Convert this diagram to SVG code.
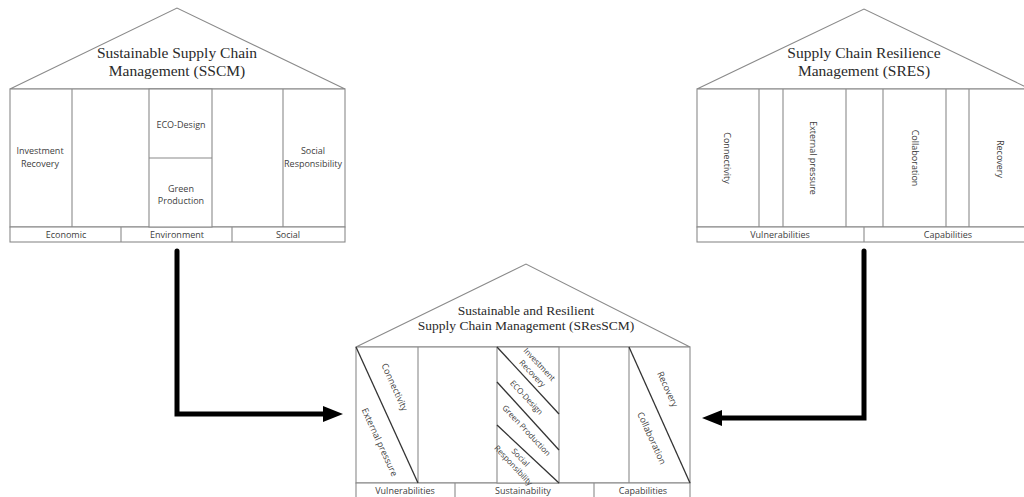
<svg xmlns="http://www.w3.org/2000/svg" width="1024" height="497" viewBox="0 0 1024 497">
  <style>
    .frame { fill: #fff; stroke: #8a8a8a; stroke-width: 1.1; }
    .line { fill: none; stroke: #8a8a8a; stroke-width: 1.1; }
    .diag { fill: none; stroke: #333; stroke-width: 1.3; }
    .title { font-family: "Liberation Serif", "Times New Roman", serif; fill: #2a2a2a; text-anchor: middle; }
    .lbl { font-family: "Open Sans", "Liberation Sans", sans-serif; font-size: 9px; fill: #404040; text-anchor: middle; }
    .sm { font-size: 8px; }
    .rot { dominant-baseline: central; }
    .flow { fill: none; stroke: #000; stroke-width: 5; stroke-linecap: round; stroke-linejoin: miter; }
  </style>
  <defs>
    <marker id="head" markerUnits="userSpaceOnUse" viewBox="0 0 20 16" markerWidth="20" markerHeight="16" refX="1" refY="8" orient="auto">
      <path d="M0,0 L20,8 L0,16 z" fill="#000"/>
    </marker>
  </defs>
  <rect width="1024" height="497" fill="#fff"/>

  <!-- Sustainable Supply Chain Management house -->
  <g id="sscm">
    <polygon class="frame" points="10,89 177,8 345,89"/>
    <rect class="frame" x="10" y="89" width="335" height="138"/>
    <rect class="frame" x="10" y="227" width="335" height="15"/>
    <line class="line" x1="72" y1="89" x2="72" y2="227"/>
    <rect class="frame" x="149" y="89" width="63" height="138"/>
    <line class="line" x1="149" y1="158" x2="212" y2="158"/>
    <line class="line" x1="283" y1="89" x2="283" y2="227"/>
    <line class="line" x1="121" y1="227" x2="121" y2="242"/>
    <line class="line" x1="232" y1="227" x2="232" y2="242"/>
    <text class="title" font-size="15.5" x="177" y="58">Sustainable Supply Chain</text>
    <text class="title" font-size="15.5" x="177" y="76">Management (SSCM)</text>
    <text class="lbl" x="40" y="154">Investment</text>
    <text class="lbl" x="40" y="167">Recovery</text>
    <text class="lbl" x="181" y="128">ECO-Design</text>
    <text class="lbl" x="181" y="192">Green</text>
    <text class="lbl" x="181" y="204">Production</text>
    <text class="lbl" x="313" y="154">Social</text>
    <text class="lbl" x="313" y="167">Responsibility</text>
    <text class="lbl" x="66" y="238">Economic</text>
    <text class="lbl" x="177" y="238">Environment</text>
    <text class="lbl" x="288" y="238">Social</text>
  </g>

  <!-- Supply Chain Resilience Management house -->
  <g id="sres">
    <polygon class="frame" points="697,89 864,9 1030,89"/>
    <rect class="frame" x="697" y="89" width="340" height="138"/>
    <rect class="frame" x="697" y="227" width="340" height="15"/>
    <line class="line" x1="759" y1="89" x2="759" y2="227"/>
    <line class="line" x1="783" y1="89" x2="783" y2="227"/>
    <line class="line" x1="846" y1="89" x2="846" y2="227"/>
    <line class="line" x1="883" y1="89" x2="883" y2="227"/>
    <line class="line" x1="946" y1="89" x2="946" y2="227"/>
    <line class="line" x1="969" y1="89" x2="969" y2="227"/>
    <line class="line" x1="864" y1="227" x2="864" y2="242"/>
    <text class="title" font-size="15.5" x="864" y="58">Supply Chain Resilience</text>
    <text class="title" font-size="15.5" x="864" y="76">Management (SRES)</text>
    <text class="lbl rot" transform="translate(727,158) rotate(90)">Connectivity</text>
    <text class="lbl rot" transform="translate(813,158) rotate(90)">External pressure</text>
    <text class="lbl rot" transform="translate(915,158) rotate(90)">Collaboration</text>
    <text class="lbl rot" transform="translate(1000,159) rotate(90)">Recovery</text>
    <text class="lbl" x="780" y="238">Vulnerabilities</text>
    <text class="lbl" x="948" y="238">Capabilities</text>
  </g>

  <!-- Sustainable and Resilient Supply Chain Management house -->
  <g id="sresscm">
    <polygon class="frame" points="356,347 526,264 690,347"/>
    <rect class="frame" x="356" y="347" width="334" height="136"/>
    <rect class="frame" x="356" y="483" width="334" height="15"/>
    <line class="line" x1="418" y1="347" x2="418" y2="483"/>
    <rect class="frame" x="497" y="347" width="62" height="136"/>
    <line class="line" x1="629" y1="347" x2="629" y2="483"/>
    <line class="line" x1="455" y1="483" x2="455" y2="497"/>
    <line class="line" x1="594" y1="483" x2="594" y2="497"/>
    <line class="diag" x1="356" y1="347" x2="418" y2="483"/>
    <line class="diag" x1="629" y1="347" x2="690" y2="483"/>
    <line class="diag" x1="497" y1="347" x2="559" y2="414"/>
    <line class="diag" x1="497" y1="382" x2="559" y2="450"/>
    <line class="diag" x1="497" y1="425" x2="559" y2="483"/>
    <text class="title" font-size="13.5" x="526" y="315">Sustainable and Resilient</text>
    <text class="title" font-size="13.5" x="526" y="330">Supply Chain Management (SResSCM)</text>
    <text class="lbl rot" transform="translate(395,387) rotate(65.5)">Connectivity</text>
    <text class="lbl rot" transform="translate(380,442) rotate(65.5)">External pressure</text>
    <text class="lbl rot" transform="translate(668,389) rotate(65.5)">Recovery</text>
    <text class="lbl rot" transform="translate(652,438) rotate(65.5)">Collaboration</text>
    <text class="lbl sm rot" transform="translate(540,364) rotate(46.8)">Investment</text>
    <text class="lbl sm rot" transform="translate(533,373) rotate(46.8)">Recovery</text>
    <text class="lbl sm rot" transform="translate(527,397) rotate(46.8)">ECO-Design</text>
    <text class="lbl sm rot" transform="translate(527,430) rotate(46.8)">Green Production</text>
    <text class="lbl sm rot" transform="translate(521,457) rotate(46.8)">Social</text>
    <text class="lbl sm rot" transform="translate(514,465) rotate(46.8)">Responsibility</text>
    <text class="lbl" x="405" y="494">Vulnerabilities</text>
    <text class="lbl" x="523" y="494">Sustainability</text>
    <text class="lbl" x="643" y="494">Capabilities</text>
  </g>

  <!-- connectors -->
  <g id="connectors">
    <path class="flow" d="M177,251 V414 H324" marker-end="url(#head)"/>
    <path class="flow" d="M864,251 V418 H721" marker-end="url(#head)"/>
  </g>
</svg>
